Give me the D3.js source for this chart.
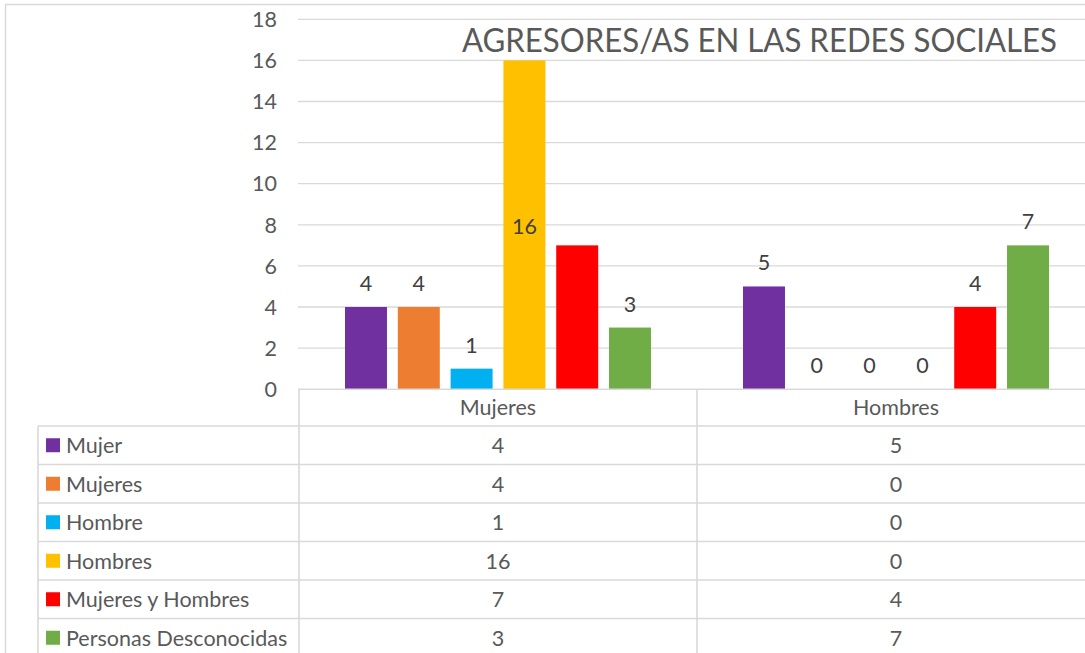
<!DOCTYPE html>
<html>
<head>
<meta charset="utf-8"/>
<script src="https://cdn.jsdelivr.net/npm/d3@7"></script>
<title>Agresores/as en las redes sociales</title>
<style>
body { margin: 0; background: #fff; }
text { font-family: Lato, "Open Sans", sans-serif; fill: #595959; }
.grid line { stroke: #d9d9d9; stroke-width: 1.3; }
.tbl line { stroke: #d9d9d9; stroke-width: 1.6; }
</style>
</head>
<body>
<svg width="1085" height="653"></svg>
<script>
var categories = ["Mujeres", "Hombres"];
var series = ["Mujer", "Mujeres", "Hombre", "Hombres", "Mujeres y Hombres", "Personas Desconocidas"];
var colors = ["#7030a0", "#ed7d31", "#00b0f0", "#ffc000", "#ff0000", "#70ad47"];
var valuesMujeres = [4, 4, 1, 16, 7, 3];
var valuesHombres = [5, 0, 0, 0, 4, 7];
var yTicks = [0, 2, 4, 6, 8, 10, 12, 14, 16, 18];
var title = "AGRESORES/AS EN LAS REDES SOCIALES";

var values = { "Mujeres": valuesMujeres, "Hombres": valuesHombres };

var svg = d3.select("svg");
var fs = "21.5px";

// outer chart border (runs off the right and bottom edges)
svg.append("rect")
    .attr("x", 5.5).attr("y", 4.5)
    .attr("width", 1200).attr("height", 800)
    .attr("fill", "none").attr("stroke", "#d9d9d9").attr("stroke-width", 1.5);

var plotLeft = 299, plotRight = 1095, plotTop = 19.3, plotBottom = 389.2;

var y = d3.scaleLinear().domain([0, 18]).range([plotBottom, plotTop]);
var x0 = d3.scaleBand().domain(categories).range([plotLeft, plotRight]);
var x1 = d3.scaleBand().domain(series).range([0, x0.bandwidth()])
    .paddingInner(0.205).paddingOuter(0.871);
var color = d3.scaleOrdinal().domain(series).range(colors);

// gridlines
svg.append("g").attr("class", "grid")
  .selectAll("line").data(yTicks.slice(1)).join("line")
    .attr("x1", plotLeft - 1).attr("x2", plotRight)
    .attr("y1", function(d) { return y(d); })
    .attr("y2", function(d) { return y(d); });

// y axis labels
svg.append("g").selectAll("text").data(yTicks).join("text")
    .attr("x", 277)
    .attr("y", function(d) { return y(d); })
    .attr("dy", "0.36em")
    .attr("text-anchor", "end")
    .style("font-size", fs)
    .text(function(d) { return d; });

// bars
var groups = svg.append("g").selectAll("g").data(categories).join("g")
    .attr("transform", function(c) { return "translate(" + x0(c) + ",0)"; });

groups.selectAll("rect")
  .data(function(c) { return series.map(function(s, i) { return { cat: c, key: s, v: values[c][i] }; }); })
  .join("rect")
    .attr("x", function(d) { return x1(d.key); })
    .attr("width", x1.bandwidth())
    .attr("y", function(d) { return y(d.v); })
    .attr("height", function(d) { return y(0) - y(d.v); })
    .attr("fill", function(d) { return color(d.key); });

// data labels; the 16 label was dragged down next to the 7 bar, whose own label is gone
var movedLabel = { cat: "Mujeres", key: "Hombres", to: "Mujeres y Hombres" };

groups.selectAll("text.lbl")
  .data(function(c) {
    return series.map(function(s, i) { return { cat: c, key: s, v: values[c][i] }; })
      .filter(function(d) { return !(d.cat === movedLabel.cat && d.key === movedLabel.to); });
  })
  .join("text")
    .attr("class", "lbl")
    .attr("x", function(d) { return x1(d.key) + x1.bandwidth() / 2; })
    .attr("y", function(d) {
      if (d.cat === movedLabel.cat && d.key === movedLabel.key)
        return y(values[d.cat][series.indexOf(movedLabel.to)]) - 11;
      return y(d.v) - 16;
    })
    .attr("text-anchor", "middle")
    .style("font-size", fs)
    .style("fill", "#404040")
    .text(function(d) { return d.v; });

// title
svg.append("text")
    .attr("x", 462).attr("y", 52)
    .attr("textLength", 595).attr("lengthAdjust", "spacingAndGlyphs")
    .style("font-size", "32.5px")
    .text(title);

// data table
var rowH = 38.5;
var rows = d3.scaleBand().domain(series).range([426, 426 + rowH * series.length]);
var tbl = svg.append("g").attr("class", "tbl");
var colEdges = [plotLeft].concat(categories.map(function(c) { return x0(c) + x0.bandwidth(); }));

tbl.append("line").attr("x1", plotLeft - 1).attr("x2", plotRight).attr("y1", plotBottom).attr("y2", plotBottom);
tbl.selectAll("line.h").data(series).join("line").attr("class", "h")
    .attr("x1", 38).attr("x2", plotRight)
    .attr("y1", function(s) { return rows(s); })
    .attr("y2", function(s) { return rows(s); });
tbl.append("line").attr("x1", 38).attr("x2", 38).attr("y1", 426).attr("y2", 700);
tbl.selectAll("line.v").data(colEdges).join("line").attr("class", "v")
    .attr("x1", function(d) { return d; }).attr("x2", function(d) { return d; })
    .attr("y1", plotBottom).attr("y2", 700);

// header
svg.append("g").selectAll("text").data(categories).join("text")
    .attr("x", function(c) { return x0(c) + x0.bandwidth() / 2; })
    .attr("y", (plotBottom + 426) / 2)
    .attr("dy", "0.36em")
    .attr("text-anchor", "middle")
    .style("font-size", fs)
    .text(function(c) { return c; });

// legend keys + series names
var rowG = svg.append("g").selectAll("g").data(series).join("g")
    .attr("transform", function(s) { return "translate(0," + (rows(s) + rowH / 2) + ")"; });

rowG.append("rect")
    .attr("x", 46).attr("y", -7).attr("width", 14).attr("height", 14)
    .attr("fill", function(s) { return color(s); });

rowG.append("text")
    .attr("x", 66).attr("dy", "0.36em")
    .style("font-size", fs)
    .text(function(s) { return s; });

rowG.selectAll("text.val")
  .data(function(s) { var i = series.indexOf(s); return categories.map(function(c) { return { cat: c, v: values[c][i] }; }); })
  .join("text")
    .attr("class", "val")
    .attr("x", function(d) { return x0(d.cat) + x0.bandwidth() / 2; })
    .attr("dy", "0.36em")
    .attr("text-anchor", "middle")
    .style("font-size", fs)
    .text(function(d) { return d.v; });
</script>
</body>
</html>
